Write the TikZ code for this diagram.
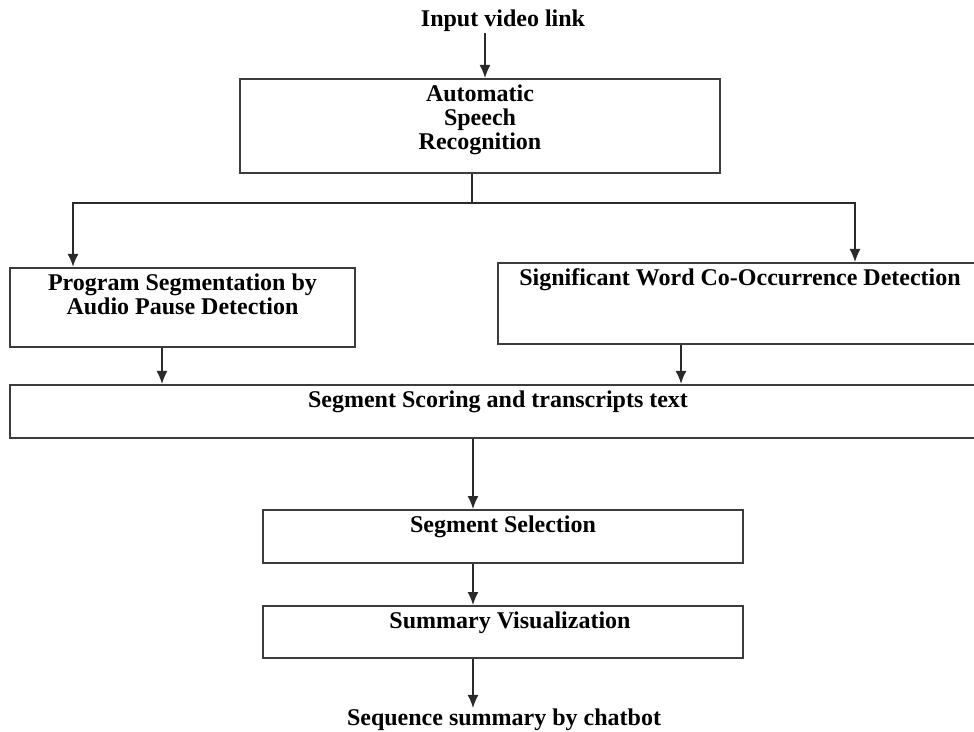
\documentclass[tikz,border=0pt]{standalone}
\usepackage{fontspec}
\setmainfont{Liberation Serif}
\usetikzlibrary{arrows.meta, positioning, calc}
\definecolor{lineaCaja}{HTML}{3C3C3C}
\definecolor{lineaFlecha}{HTML}{2A2A2A}

\begin{document}
\begin{tikzpicture}[
        x=0.5pt, y=-0.5pt,
        box/.style={draw=lineaCaja, line width=1pt, inner sep=0pt},
        lbl/.style={anchor=north, inner sep=0pt, yshift=-3pt, align=center,
            font=\bfseries\fontsize{12}{12.2}\selectfont},
        txt/.style={inner sep=0pt, font=\bfseries\fontsize{12}{12.2}\selectfont},
        rel/.style={-{Latex[length=6.5pt, width=5.5pt]}, lineaFlecha, line width=0.7pt},
        relb/.style={rel, line width=1pt}
    ]
        \useasboundingbox (0,0) rectangle (974,732);

        \node[txt, anchor=base] (inp) at (503,27) {Input video link};
        \node[box, minimum width=240pt, minimum height=47pt,
            label={[lbl]north:Automatic\\Speech\\Recognition}] (asr) at (480,126) {};
        \node[box, minimum width=172.5pt, minimum height=39.5pt,
            label={[lbl]north:Program Segmentation by\\Audio Pause Detection}] (psg) at (182.5,307.5) {};
        \node[box, minimum width=239pt, minimum height=40.5pt,
            label={[lbl, xshift=1.5pt]north:Significant Word Co-Occurrence Detection}] (swc) at (737,303.5) {};
        \node[box, minimum width=483pt, minimum height=26.5pt,
            label={[lbl, xshift=2.5pt]north:Segment Scoring and transcripts text}] (sst) at (493,411.5) {};
        \node[box, minimum width=240pt, minimum height=26.5pt,
            label={[lbl]north:Segment Selection}] (sel) at (503,536.5) {};
        \node[box, minimum width=240pt, minimum height=26pt,
            label={[lbl, xshift=3.5pt]north:Summary Visualization}] (viz) at (503,632) {};
        \node[txt, anchor=base] (seq) at (504,725) {Sequence summary by chatbot};

        \coordinate (split) at (472,203);

        \draw[rel] ([xshift=-9pt]inp.south) -- ([xshift=-9pt]inp.south |- asr.north);
        \draw[lineaFlecha, line width=0.8pt] (asr.south -| split) -- (split);
        \draw[relb] (split) -| ([xshift=-54.75pt]psg.north);
        \draw[rel] (split) -| ([xshift=59pt]swc.north);
        \draw[rel] ([xshift=-10.25pt]psg.south) -- ([xshift=-10.25pt]psg.south |- sst.north);
        \draw[relb] ([xshift=-28pt]swc.south) -- ([xshift=-28pt]swc.south |- sst.north);
        \draw[rel] ([xshift=-15pt]sel.north |- sst.south) -- ([xshift=-15pt]sel.north);
        \draw[rel] ([xshift=-15pt]sel.south) -- ([xshift=-15pt]viz.north);
        \draw[rel] ([xshift=-15pt]viz.south) -- ([xshift=-15pt]viz.south |- seq.north);
    \end{tikzpicture}
\end{document}
